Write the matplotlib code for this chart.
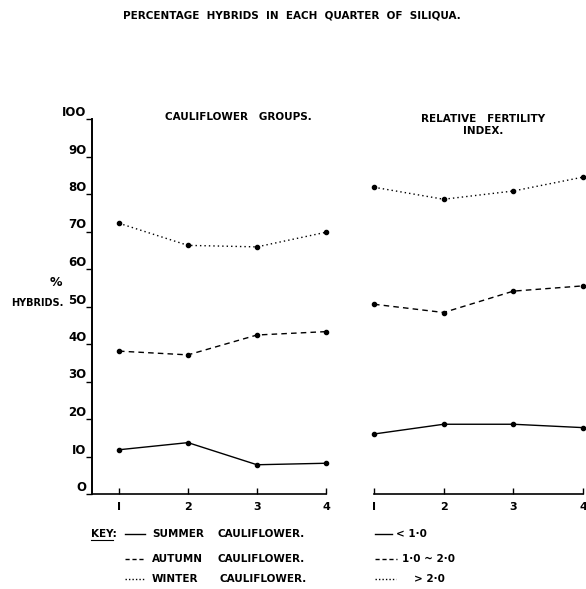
import matplotlib

matplotlib.use("Agg")
import matplotlib.pyplot as plt
from matplotlib.lines import Line2D

# values (percentage hybrids per quarter of siliqua)
quarters = [1, 2, 3, 4]
summer = [11.8, 13.7, 7.8, 8.2]
autumn = [38.1, 37.1, 42.4, 43.3]
winter = [72.2, 66.3, 65.9, 69.8]

fert_low = [16.0, 18.6, 18.6, 17.7]
fert_mid = [50.6, 48.4, 54.1, 55.5]
fert_high = [81.8, 78.6, 80.8, 84.5]

yticks = [0, 10, 20, 30, 40, 50, 60, 70, 80, 90, 100]
ytick_labels = ["O", "IO", "2O", "3O", "4O", "5O", "6O", "7O", "8O", "9O", "IOO"]
xtick_labels = ["I", "2", "3", "4"]

W, H = 586, 589
FONT = "DejaVu Sans"


def fx(px):
    return px / W


def fy(py):
    return 1 - py / H


plt.rcParams["font.family"] = FONT
fig = plt.figure(figsize=(W / 100, H / 100), dpi=100)
fig.patch.set_facecolor("white")

styles = [("-", summer, fert_low), ((0, (4, 3)), autumn, fert_mid), ((0, (1, 2.2)), winter, fert_high)]

# left panel: cauliflower groups
axl = fig.add_axes([fx(92), fy(494), fx(326) - fx(92), fy(119) - fy(494)])
axl.set_xlim(0.609, 4.0)
axl.set_ylim(0, 100)
for ls, vals, _ in styles:
    axl.plot(quarters, vals, linestyle=ls, color="black", lw=1.0,
             marker="o", ms=3, clip_on=False)
axl.spines["top"].set_visible(False)
axl.spines["right"].set_visible(False)
axl.spines["left"].set_linewidth(1.4)
axl.spines["bottom"].set_linewidth(1.2)
axl.set_yticks(yticks)
axl.set_yticklabels(ytick_labels, fontsize=8.5, fontweight="bold")
for lab in axl.get_yticklabels():
    lab.set_va("bottom")
axl.tick_params(axis="y", direction="out", length=4, width=1, pad=0)
axl.set_xticks(quarters)
axl.set_xticklabels(xtick_labels, fontsize=8, fontweight="bold")
axl.tick_params(axis="x", direction="in", length=4, width=1, pad=6)

# right panel: relative fertility index
axr = fig.add_axes([fx(374), fy(494), fx(583) - fx(374), fy(119) - fy(494)])
axr.set_xlim(1, 4)
axr.set_ylim(0, 100)
for ls, _, vals in styles:
    axr.plot(quarters, vals, linestyle=ls, color="black", lw=1.0,
             marker="o", ms=3, clip_on=False)
for s in ["top", "right", "left"]:
    axr.spines[s].set_visible(False)
axr.spines["bottom"].set_linewidth(1.2)
axr.set_yticks([])
axr.set_xticks(quarters)
axr.set_xticklabels(xtick_labels, fontsize=8, fontweight="bold")
axr.tick_params(axis="x", direction="in", length=4, width=1, pad=6)

# titles
fig.text(fx(292), fy(15), "PERCENTAGE  HYBRIDS  IN  EACH  QUARTER  OF  SILIQUA.",
         ha="center", va="center", fontsize=7.5, fontweight="bold")
fig.text(fx(238), fy(117), "CAULIFLOWER   GROUPS.", ha="center", va="center",
         fontsize=7.5, fontweight="bold")
fig.text(fx(483), fy(125), "RELATIVE   FERTILITY\nINDEX.", ha="center", va="center",
         fontsize=7.5, fontweight="bold", linespacing=1.3)
fig.text(fx(56), fy(283), "%", ha="center", va="center", fontsize=9, fontweight="bold")
fig.text(fx(37), fy(303), "HYBRIDS.", ha="center", va="center", fontsize=7,
         fontweight="bold")

# key
kw = dict(va="center", fontsize=7.5, fontweight="bold")
fig.text(fx(91), fy(534), "KEY:", **kw)
fig.add_artist(Line2D([fx(91), fx(113)], [fy(539.5), fy(539.5)], color="black", lw=0.8))

rows = [(534, "-", "SUMMER", 218, 392, "< 1·0", 396),
        (559, (0, (3, 2)), "AUTUMN", 218, 397, "1·0 ~ 2·0", 402),
        (579, (0, (1, 1.5)), "WINTER", 220, 396, "> 2·0", 414)]
for py, ls, season, cx, rend, idx, tx in rows:
    fig.add_artist(Line2D([fx(125), fx(145)], [fy(py), fy(py)], color="black",
                          lw=1.0, linestyle=ls))
    fig.text(fx(152), fy(py), season, **kw)
    fig.text(fx(cx), fy(py), "CAULIFLOWER.", **kw)
    fig.add_artist(Line2D([fx(375), fx(rend)], [fy(py), fy(py)], color="black",
                          lw=1.0, linestyle=ls))
    fig.text(fx(tx), fy(py), idx, **kw)

fig.savefig("out.png", dpi=100, facecolor="white")
